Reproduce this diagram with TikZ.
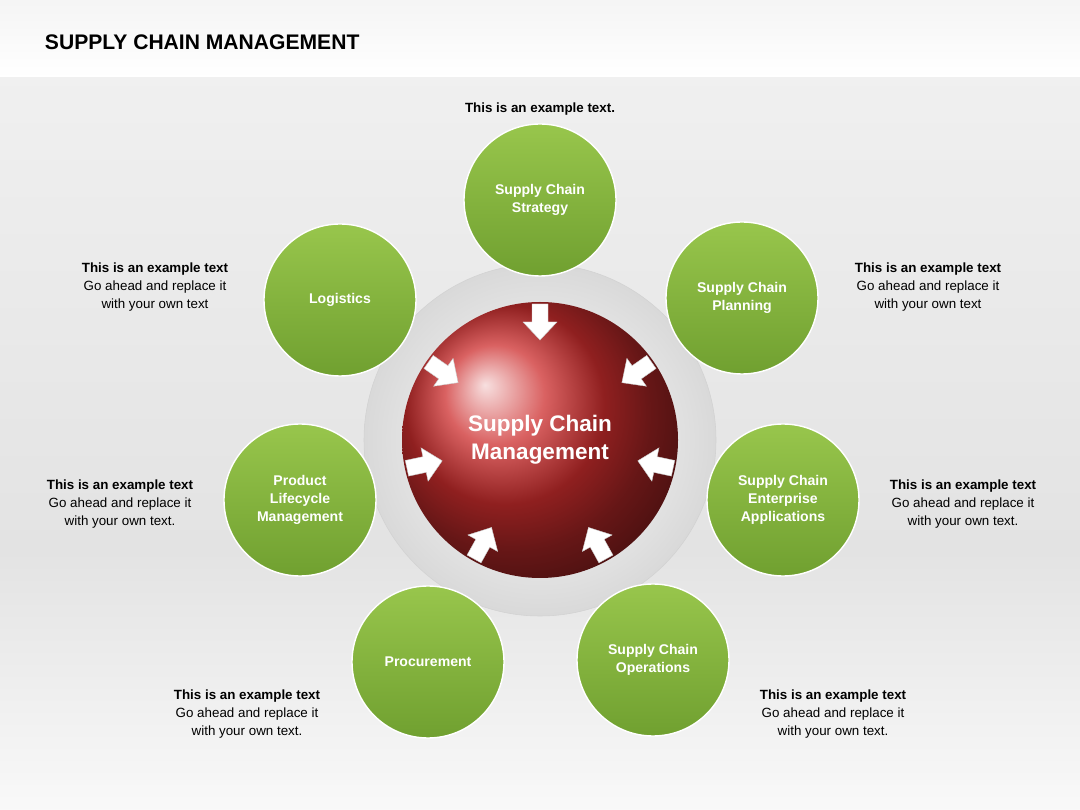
\documentclass[tikz,border=0pt]{standalone}
\usepackage{fontspec}
\setmainfont{Liberation Sans}
\usetikzlibrary{positioning}

\definecolor{grntop}{RGB}{152,198,76}
\definecolor{grnbot}{RGB}{112,160,48}
\definecolor{hubred}{RGB}{205,45,45}
\tikzset{
  leaf/.style={circle,minimum size=152\unitlen,inner sep=0pt,draw=white,line width=1pt,
    top color=grntop,bottom color=grnbot,
    font=\fontsize{10pt}{12.8pt}\selectfont\bfseries,text=white,align=center},
  note/.style={align=center,font=\fontsize{9.5pt}{12.8pt}\selectfont},
  tip/.style={fill=white,draw=gray!40,line width=0.3pt}
}
\newlength{\unitlen}\setlength{\unitlen}{0.025cm}

\begin{document}
\begin{tikzpicture}[x=0.025cm,y=0.025cm]
  % background
  \useasboundingbox (0,0) rectangle (1080,810);
  \shade[top color=gray!8,bottom color=white] (0,732) rectangle (1080,810);
  \shade[top color=gray!12,bottom color=gray!22] (0,260) rectangle (1080,732);
  \shade[top color=gray!22,bottom color=gray!5] (0,0) rectangle (1080,260);
  \node[anchor=west,font=\fontsize{15pt}{18pt}\selectfont\bfseries] (title) at (40,768) {SUPPLY CHAIN MANAGEMENT};

  % hub
  \shade[inner color=white,outer color=gray!30,draw=gray!35] (540,370) circle (176);
  \node (hub) [circle,minimum size=276\unitlen,inner sep=0pt,
    shading=ball,ball color=hubred,text=white,align=center,
    font=\fontsize{16pt}{20pt}\selectfont\bfseries] at (540,370) {Supply Chain\\Management};

  % inward arrows
  \foreach \a in {90,35,-12,-61,-119,-168,145}{
    \begin{scope}[shift={(540,370)},rotate=\a]
      \draw[tip] (136,-8) -- (118,-8) -- (118,-17) -- (100,0) -- (118,17) -- (118,8) -- (136,8) -- cycle;
    \end{scope}
  }

  % leaves
  \node (strat) [leaf] at (540,610) {Supply Chain\\Strategy};
  \node (plan)  [leaf] at (742,512) {Supply Chain\\Planning};
  \node (ent)   [leaf] at (783,310) {Supply Chain\\Enterprise\\Applications};
  \node (ops)   [leaf] at (653,150) {Supply Chain\\Operations};
  \node (proc)  [leaf] at (428,148) {Procurement};
  \node (plm)   [leaf] at (300,310) {Product\\Lifecycle\\Management};
  \node (logi)  [leaf] at (340,510) {Logistics};

  % notes
  \node (nstrat) [note,above=2pt of strat] {\textbf{This is an example text.}};
  \node (nlogi) [note] at (155,523) {\textbf{This is an example text}\\Go ahead and replace it\\with your own text};
  \node (nplan) [note] at (928,523) {\textbf{This is an example text}\\Go ahead and replace it\\with your own text};
  \node (nplm)  [note] at (120,306) {\textbf{This is an example text}\\Go ahead and replace it\\with your own text.};
  \node (nent)  [note] at (963,306) {\textbf{This is an example text}\\Go ahead and replace it\\with your own text.};
  \node (nproc) [note] at (247,96) {\textbf{This is an example text}\\Go ahead and replace it\\with your own text.};
  \node (nops)  [note] at (833,96) {\textbf{This is an example text}\\Go ahead and replace it\\with your own text.};
\end{tikzpicture}
\end{document}
